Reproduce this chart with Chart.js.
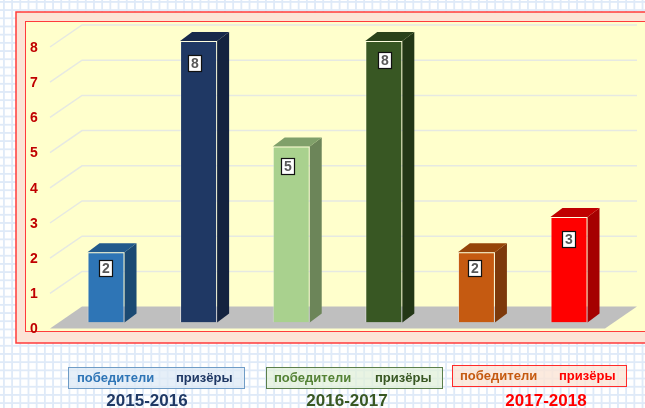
<!DOCTYPE html>
<html lang="ru"><head><meta charset="utf-8">
<script src="https://cdn.jsdelivr.net/npm/chart.js@4"></script>
<style>
html,body{margin:0;padding:0;width:645px;height:408px;overflow:hidden;background-color:#fff;}
body{background-image:
 linear-gradient(#dfeaf8 1.5px,transparent 1.5px),
 linear-gradient(90deg,#dfeaf8 1.5px,transparent 1.5px);
 background-size:8.2px 8.2px;background-position:3px 1px;position:relative;font-family:"Liberation Sans",Arial,sans-serif;}
#c{position:absolute;left:0;top:0;}
.box{position:absolute;box-sizing:border-box;height:22px;font-weight:bold;font-size:13px;line-height:19px;}
.box span{position:absolute;top:0;white-space:nowrap;}
.yr{position:absolute;font-weight:bold;font-size:17px;top:391px;width:160px;text-align:center;}
</style></head><body>
<canvas id="c" width="645" height="408"></canvas>
<div id="legend"></div>
<script>
const categories=['победители 2015-2016','призёры 2015-2016','победители 2016-2017','призёры 2016-2017','победители 2017-2018','призёры 2017-2018'];
const values=[2,8,5,8,2,3];
const frontColors=['#2E75B6','#1F3864','#A9D18E','#385723','#C55A11','#FF0000'];
const sideColors=['#1B4A73','#14233F','#6C8559','#233716','#7D390B','#A50000'];
const topColors=['#225A8C','#18294B','#80A06A','#2A421A','#954409','#C00000'];
const labelNudgeX=[0,-4,-3,1,-1,0];
const labelNudgeY=[17,23,20,20,17,23];
const yMax=8;
const groups=[
 {year:'2015-2016',a:'победители',b:'призёры',ca:'#2E75B6',cb:'#1F3864',border:'#6F9CC6',fill:'rgba(222,234,246,.75)',x:68,w:177,y:367,tx:[8,107],yc:147},
 {year:'2016-2017',a:'победители',b:'призёры',ca:'#548235',cb:'#385723',border:'#5B7F4B',fill:'rgba(226,240,217,.75)',x:266,w:177,y:367,tx:[7,108],yc:347},
 {year:'2017-2018',a:'победители',b:'призёры',ca:'#C55A11',cb:'#FF0000',border:'#FF2A2A',fill:'rgba(251,229,214,.8)',x:452,w:175,y:365,tx:[7,106],yc:546}
];
const DX=12,DY=9,BACK=16,FRONT=6;

const decor={id:'decor',
 beforeDraw(ch){
  const g=ch.ctx,y=ch.scales.y;
  g.save();
  g.fillStyle='#FCE4D6';g.fillRect(16,12,640,331);
  g.strokeStyle='#FF3B3B';g.lineWidth=1.5;g.strokeRect(16,12,640,331);
  g.fillStyle='#FFFFCC';g.fillRect(25,21,630,311);
  g.strokeStyle='#FF3B3B';g.lineWidth=1;g.strokeRect(25.5,21.5,630,310);
  const fl=y.getPixelForValue(0);
  g.fillStyle='#BFBFBF';
  g.beginPath();g.moveTo(50,fl+FRONT);g.lineTo(82,fl-BACK);g.lineTo(637,fl-BACK);g.lineTo(605,fl+FRONT);g.closePath();g.fill();
  g.strokeStyle='#E6E9E2';g.lineWidth=1.5;
  for(let v=1;v<=yMax;v++){
   const p=y.getPixelForValue(v);
   g.beginPath();g.moveTo(50,p+FRONT);g.lineTo(82,p-BACK);g.lineTo(637,p-BACK);g.stroke();
  }
  g.restore();
 },
 beforeDatasetsDraw(ch){
  const g=ch.ctx,m=ch.getDatasetMeta(0).data;
  g.save();
  m.forEach((b,i)=>{
   const l=b.x-b.width/2,r=b.x+b.width/2;
   g.fillStyle=sideColors[i];
   g.beginPath();g.moveTo(r,b.y);g.lineTo(r+DX,b.y-DY);g.lineTo(r+DX,b.base-DY);g.lineTo(r,b.base);g.closePath();g.fill();
   g.fillStyle=topColors[i];
   g.beginPath();g.moveTo(l,b.y);g.lineTo(l+DX,b.y-DY);g.lineTo(r+DX,b.y-DY);g.lineTo(r,b.y);g.closePath();g.fill();
  });
  g.restore();
 },
 afterDatasetsDraw(ch){
  const g=ch.ctx,m=ch.getDatasetMeta(0).data;
  g.save();
  g.font='bold 14px "Liberation Sans",Arial,sans-serif';g.textAlign='center';g.textBaseline='middle';
  m.forEach((b,i)=>{
   const cx=Math.round(b.x+labelNudgeX[i])+.5,cy=Math.round(b.y+labelNudgeY[i]);
   g.fillStyle='#fff';g.fillRect(cx-7,cy-8.5,13,16);
   g.strokeStyle='#111';g.lineWidth=1.2;g.strokeRect(cx-7,cy-8.5,13,16);
   g.fillStyle='#595959';g.fillText(String(values[i]),cx-.5,cy+.5);
  });
  g.restore();
 }
};

new Chart(document.getElementById('c'),{
 type:'bar',
 data:{labels:categories,datasets:[{data:values,backgroundColor:frontColors,borderColor:'rgba(255,255,255,.4)',borderWidth:1,barPercentage:.4,categoryPercentage:1}]},
 plugins:[decor],
 options:{
  responsive:false,animation:false,
  layout:{padding:{top:41,bottom:85.4,left:0,right:29.7}},
  plugins:{legend:{display:false},tooltip:{enabled:false}},
  scales:{
   x:{display:false},
   y:{min:0,max:yMax,grid:{display:false},border:{display:false},
      afterFit(s){s.width=59.7;},
      ticks:{stepSize:1,padding:14,labelOffset:7,color:'#C00000',font:{family:'"Liberation Sans",Arial,sans-serif',size:14,weight:'bold'}}}
  }
 }
});

const host=document.getElementById('legend');
groups.forEach(o=>{
 const d=document.createElement('div');d.className='box';
 d.style.cssText=`left:${o.x}px;top:${o.y}px;width:${o.w}px;background:${o.fill};border:1.5px solid ${o.border};`;
 [[o.a,o.ca,o.tx[0]],[o.b,o.cb,o.tx[1]]].forEach(t=>{
  const s=document.createElement('span');s.textContent=t[0];s.style.color=t[1];s.style.left=t[2]+'px';d.appendChild(s);
 });
 host.appendChild(d);
 const y=document.createElement('div');y.className='yr';y.textContent=o.year;y.style.color=o.cb;y.style.left=(o.yc-80)+'px';
 host.appendChild(y);
});
</script>
</body></html>
